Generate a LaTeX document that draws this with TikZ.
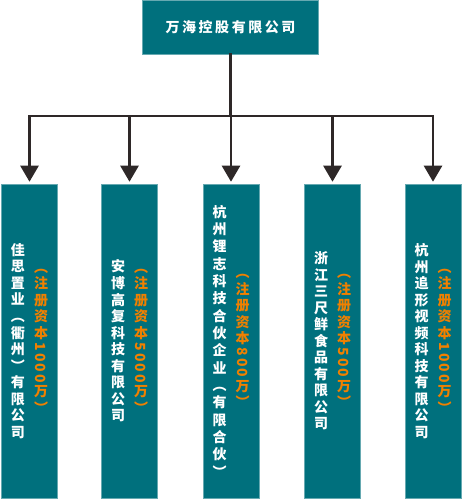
\documentclass[tikz,border=0pt]{standalone}
\usepackage{fontspec}
\usepackage{graphicx}
\usetikzlibrary{arrows.meta}
\newfontfamily\cjk{Noto Sans CJK SC}
\definecolor{boxteal}{RGB}{0,112,125}
\definecolor{capital}{RGB}{240,128,0}
\definecolor{linkdark}{RGB}{46,40,40}
\newcommand{\sideways}[1]{\rotatebox[origin=c]{-90}{\addfontfeatures{LetterSpace=15}#1}}

\begin{document}
\begin{tikzpicture}[x=0.75pt,y=-0.75pt,
  company/.style={draw=boxteal!60, line width=0.4pt, fill=boxteal, inner sep=0pt,
    minimum width=42pt, minimum height=235.5pt},
  namecol/.style={text=white, align=center, inner sep=0pt,
    font={\cjk\bfseries\fontsize{10.5}{12.4}\selectfont\lineskip=2pt}},
  capcol/.style={namecol, text=capital},
  link/.style={draw=linkdark, line width=1.9pt, line cap=rect},
  down/.style={link, -{Triangle[width=13.5pt,length=12pt]}, shorten >=1.5pt}]
\useasboundingbox (0,0) rectangle (462,500);

% holding company
\node[company, minimum width=132pt, minimum height=40.5pt, text=white,
  font={\cjk\bfseries\fontsize{10.5}{12.4}\selectfont}] (hold) at (230.5,27)
  {\addfontfeatures{LetterSpace=18}万海控股有限公司};

% subsidiaries
\node[company] (b1) at (29.5,341) {};
\node[company] (b2) at (129.5,341) {};
\node[company] (b3) at (231,341) {};
\node[company] (b4) at (332.5,341) {};
\node[company] (b5) at (433,341) {};

\node[namecol] (n1) at (18,341) {佳\\思\\置\\业\\︵\\衢\\州\\︶\\有\\限\\公\\司};
\node[capcol] (c1) at (41,341) {︵\\注\\册\\资\\本\\\sideways{1000}\\万\\︶};
\node[namecol] (n2) at (118,341) {安\\博\\高\\复\\科\\技\\有\\限\\公\\司};
\node[capcol] (c2) at (141,341) {︵\\注\\册\\资\\本\\\sideways{5000}\\万\\︶};
\node[namecol, font={\cjk\bfseries\fontsize{10.5}{13}\selectfont\lineskip=2pt}] (n3) at (219.5,341)
  {杭\\州\\锂\\志\\科\\技\\合\\伙\\企\\业\\︵\\有\\限\\合\\伙\\︶};
\node[capcol] (c3) at (242.5,341) {︵\\注\\册\\资\\本\\\sideways{800}\\万\\︶};
\node[namecol] (n4) at (321,341) {浙\\江\\三\\尺\\鲜\\食\\品\\有\\限\\公\\司};
\node[capcol] (c4) at (344,341) {︵\\注\\册\\资\\本\\\sideways{500}\\万\\︶};
\node[namecol] (n5) at (421.5,341) {杭\\州\\追\\形\\视\\频\\科\\技\\有\\限\\公\\司};
\node[capcol] (c5) at (444.5,341) {︵\\注\\册\\资\\本\\\sideways{1000}\\万\\︶};

% connectors
\coordinate (bus) at (231,116);
\draw[link] (hold.south) -- (hold.south |- bus);
\draw[link] (b1.north |- bus) -- (b5.north |- bus);
\draw[down] (b1.north |- bus) -- (b1.north);
\draw[down] (b2.north |- bus) -- (b2.north);
\draw[down] (b3.north |- bus) -- (b3.north);
\draw[down] (b4.north |- bus) -- (b4.north);
\draw[down] (b5.north |- bus) -- (b5.north);
\end{tikzpicture}
\end{document}
